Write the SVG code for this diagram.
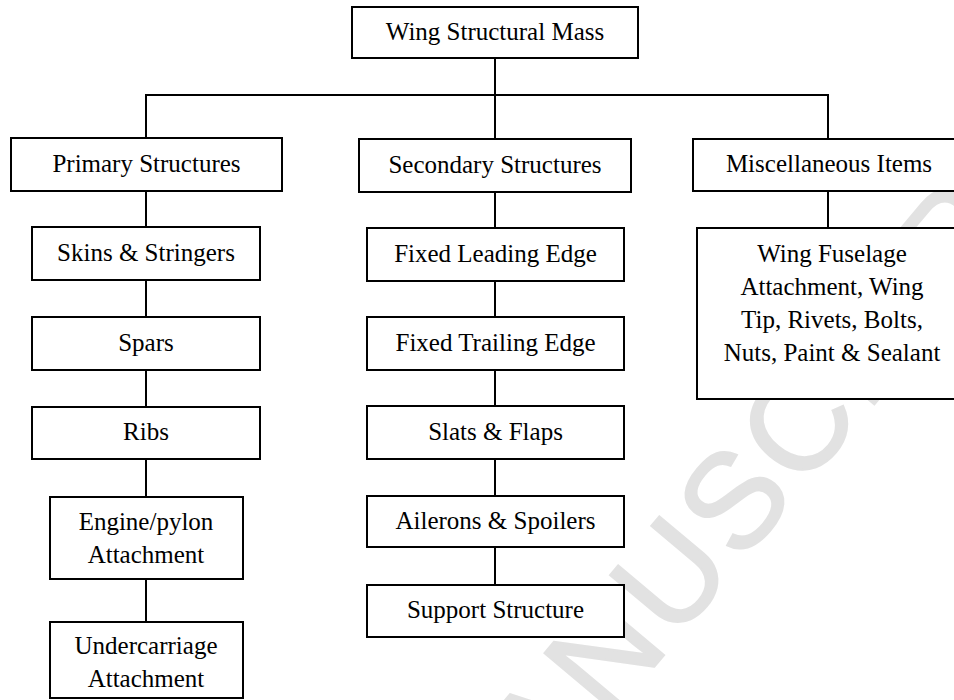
<svg xmlns="http://www.w3.org/2000/svg" width="954" height="700" viewBox="0 0 954 700">
<style>
.box{fill:#fff;stroke:#000;stroke-width:2}
.lbl{font-family:"Liberation Serif","Times New Roman",serif;font-size:25px;fill:#000;text-anchor:middle}
.conn line{stroke:#000;stroke-width:2}
.wm{font-family:"Liberation Sans",Arial,sans-serif;font-size:135px;fill:#e2e2e2;stroke:#e2e2e2;stroke-width:2;letter-spacing:5px}
</style>
<rect width="954" height="700" fill="#fff"/>
<g id="watermark">
<text class="wm" transform="translate(472,884) rotate(-50)">MANUSCRIPT</text>
</g>
<g id="connectors" class="conn">
<line x1="495" y1="58" x2="495" y2="95"/>
<line x1="146" y1="95" x2="828" y2="95"/>
<line x1="146" y1="94" x2="146" y2="138"/>
<line x1="495" y1="94" x2="495" y2="139"/>
<line x1="828" y1="94" x2="828" y2="139"/>
<line x1="146" y1="191" x2="146" y2="227"/>
<line x1="146" y1="280" x2="146" y2="317"/>
<line x1="146" y1="370" x2="146" y2="407"/>
<line x1="146" y1="459" x2="146" y2="497"/>
<line x1="146" y1="579" x2="146" y2="622"/>
<line x1="495" y1="192" x2="495" y2="228"/>
<line x1="495" y1="281" x2="495" y2="317"/>
<line x1="495" y1="370" x2="495" y2="406"/>
<line x1="495" y1="459" x2="495" y2="496"/>
<line x1="495" y1="547" x2="495" y2="585"/>
<line x1="828" y1="191" x2="828" y2="228"/>
</g>
<g id="root"><rect class="box" x="352" y="7" width="286" height="51"/><text class="lbl" x="495" y="40">Wing Structural Mass</text></g>
<g id="primary"><rect class="box" x="11" y="138" width="271" height="53"/><text class="lbl" x="146.5" y="172">Primary Structures</text></g>
<g id="secondary"><rect class="box" x="359" y="139" width="272" height="53"/><text class="lbl" x="495" y="173">Secondary Structures</text></g>
<g id="misc"><rect class="box" x="693" y="139" width="272" height="52"/><text class="lbl" x="829" y="172">Miscellaneous Items</text></g>
<g id="wingfus"><rect class="box" x="697" y="228" width="272" height="171"/>
<text class="lbl" x="832" y="262">Wing Fuselage</text>
<text class="lbl" x="832" y="295">Attachment, Wing</text>
<text class="lbl" x="832" y="328">Tip, Rivets, Bolts,</text>
<text class="lbl" x="832" y="361">Nuts, Paint &amp; Sealant</text></g>
<g id="skins"><rect class="box" x="32" y="227" width="228" height="53"/><text class="lbl" x="146" y="261">Skins &amp; Stringers</text></g>
<g id="spars"><rect class="box" x="32" y="317" width="228" height="53"/><text class="lbl" x="146" y="351">Spars</text></g>
<g id="ribs"><rect class="box" x="32" y="407" width="228" height="52"/><text class="lbl" x="146" y="440">Ribs</text></g>
<g id="engine"><rect class="box" x="50" y="497" width="193" height="82"/>
<text class="lbl" x="146" y="530">Engine/pylon</text>
<text class="lbl" x="146" y="563">Attachment</text></g>
<g id="undercarriage"><rect class="box" x="50" y="622" width="193" height="76"/>
<text class="lbl" x="146" y="654">Undercarriage</text>
<text class="lbl" x="146" y="687">Attachment</text></g>
<g id="fle"><rect class="box" x="367" y="228" width="257" height="53"/><text class="lbl" x="495.5" y="262">Fixed Leading Edge</text></g>
<g id="fte"><rect class="box" x="367" y="317" width="257" height="53"/><text class="lbl" x="495.5" y="351">Fixed Trailing Edge</text></g>
<g id="slats"><rect class="box" x="367" y="406" width="257" height="53"/><text class="lbl" x="495.5" y="440">Slats &amp; Flaps</text></g>
<g id="ailerons"><rect class="box" x="367" y="496" width="257" height="51"/><text class="lbl" x="495.5" y="529">Ailerons &amp; Spoilers</text></g>
<g id="support"><rect class="box" x="367" y="585" width="257" height="52"/><text class="lbl" x="495.5" y="618">Support Structure</text></g>
</svg>
